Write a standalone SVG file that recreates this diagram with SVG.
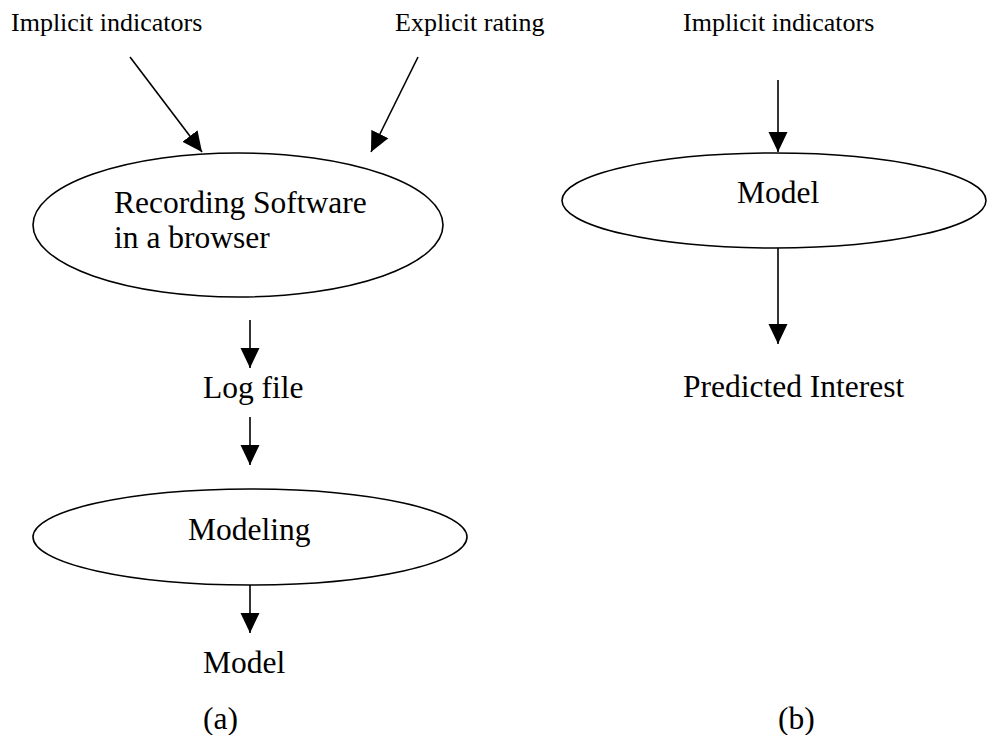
<svg xmlns="http://www.w3.org/2000/svg" width="988" height="735" viewBox="0 0 988 735">
<style>
.t{font-family:"Liberation Serif","Times New Roman",serif;fill:#000}
.s{font-size:26px}
.m{font-size:31.5px}
.n{fill:#fff;stroke:#000;stroke-width:1.6}
.c{stroke:#000;stroke-width:1.6;fill:none;marker-end:url(#ah)}
</style>
<defs>
<marker id="ah" markerUnits="userSpaceOnUse" markerWidth="20" markerHeight="20" refX="20" refY="9.5" orient="auto" viewBox="0 0 20 19">
<path d="M0,0 L20,9.5 L0,19 z" fill="#000"/>
</marker>
</defs>
<rect width="988" height="735" fill="#fff"/>
<g id="connectors">
<line class="c" x1="130" y1="57" x2="202" y2="152"/>
<line class="c" x1="418" y1="57" x2="371" y2="152"/>
<line class="c" x1="250" y1="320" x2="250" y2="368"/>
<line class="c" x1="250" y1="417" x2="250" y2="465"/>
<line class="c" x1="250" y1="585" x2="250" y2="633"/>
<line class="c" x1="778" y1="80" x2="778" y2="152"/>
<line class="c" x1="778" y1="248" x2="778" y2="344"/>
</g>
<g id="implicit-a"><text class="t s" x="11" y="31">Implicit indicators</text></g>
<g id="explicit-rating"><text class="t s" x="395" y="31">Explicit rating</text></g>
<g id="implicit-b"><text class="t s" x="683" y="31">Implicit indicators</text></g>
<g id="recording">
<ellipse class="n" cx="238" cy="225" rx="205" ry="72"/>
<text class="t m" x="114" y="213">Recording Software</text>
<text class="t m" x="114" y="248">in a browser</text>
</g>
<g id="logfile"><text class="t m" x="203" y="398">Log file</text></g>
<g id="modeling">
<ellipse class="n" cx="250" cy="537" rx="217" ry="48"/>
<text class="t m" x="188" y="540">Modeling</text>
</g>
<g id="model-a"><text class="t m" x="203" y="673">Model</text></g>
<g id="label-a"><text class="t m" x="203" y="729">(a)</text></g>
<g id="model-b">
<ellipse class="n" cx="774" cy="200.5" rx="212" ry="47.5"/>
<text class="t m" x="737" y="203">Model</text>
</g>
<g id="predicted"><text class="t m" x="683" y="397">Predicted Interest</text></g>
<g id="label-b"><text class="t m" x="778" y="729">(b)</text></g>
</svg>
